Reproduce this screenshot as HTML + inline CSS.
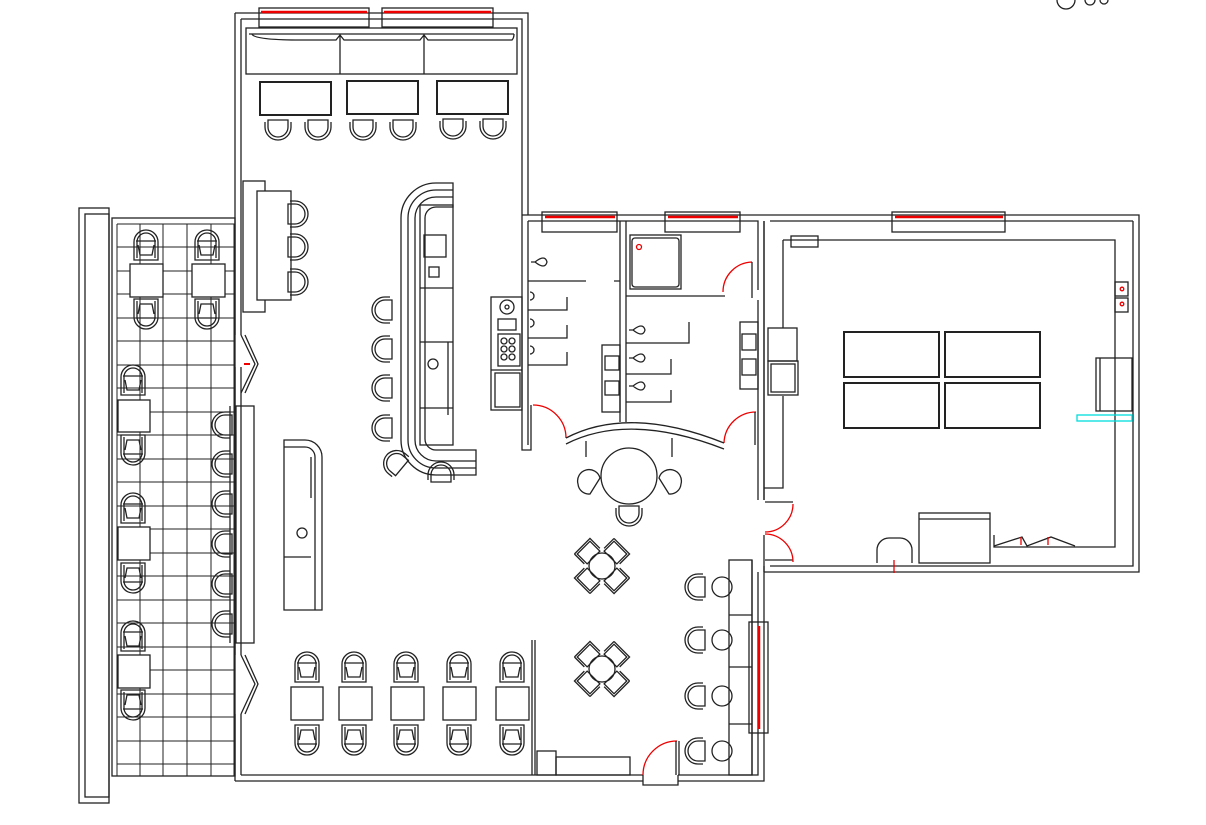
<!DOCTYPE html>
<html><head><meta charset="utf-8"><style>html,body{margin:0;padding:0;background:#fff;overflow:hidden;width:1206px;height:825px}svg{display:block}</style></head>
<body>
<svg width="1206" height="825" viewBox="0 0 1206 825" xmlns="http://www.w3.org/2000/svg" fill="none" stroke="#222" stroke-width="1.3">
<defs>
<g id="ch"><path d="M-12,15 V-3 A12,12 0 0 1 12,-3 V15 Z"/><path d="M-9,13 V-3 A9,9 0 0 1 9,-3 V13"/><path d="M-10,-4 H10 M-8,0 L-6,10 H6 L8,0"/></g>
<g id="st"><path d="M-10,0 H10 V7 A10,10 0 0 1 -10,7 Z"/><path d="M-13,2 V7 A13,13 0 0 0 13,7 V2"/></g>
<g id="ch4"><rect x="-9" y="-14" width="18" height="14"/><path d="M-11,-16 H11 V-2 M-11,-16 V-2"/></g>
</defs>

<circle cx="1066" cy="0" r="9"/><circle cx="1090" cy="0" r="5"/><circle cx="1104" cy="0" r="4"/>

<!-- terrace -->
<rect x="79" y="208" width="30" height="595"/><rect x="85" y="214" width="24" height="583"/>
<rect x="112" y="218" width="123" height="558"/>
<g stroke-width="1">
<path d="M117,224 H235 M117,224 V776 M140,224 V776 M163,224 V776 M187,224 V776 M211,224 V776 M234,224 V776"/>
<path d="M117,247 H235 M117,271 H235 M117,294 H235 M117,318 H235 M117,341 H235 M117,365 H235 M117,388 H235 M117,412 H235 M117,435 H235 M117,459 H235 M117,482 H235 M117,506 H235 M117,529 H235 M117,553 H235 M117,576 H235 M117,600 H235 M117,623 H235 M117,647 H235 M117,670 H235 M117,694 H235 M117,717 H235 M117,741 H235 M117,764 H235"/>
</g>
<g fill="#fff">
<rect x="130" y="264" width="33" height="33"/><rect x="192" y="264" width="33" height="33"/>
<rect x="118" y="400" width="32" height="32"/><rect x="118" y="527" width="32" height="33"/><rect x="118" y="655" width="32" height="33"/>
</g>
<use href="#ch" x="146" y="245"/><use href="#ch" x="207" y="245"/>
<use href="#ch" x="146" y="314" transform="rotate(180 146 314)"/><use href="#ch" x="207" y="314" transform="rotate(180 207 314)"/>
<use href="#ch" x="133" y="380"/><use href="#ch" x="133" y="450" transform="rotate(180 133 450)"/>
<use href="#ch" x="133" y="508"/><use href="#ch" x="133" y="578" transform="rotate(180 133 578)"/>
<use href="#ch" x="133" y="636"/><use href="#ch" x="133" y="705" transform="rotate(180 133 705)"/>

<!-- main left building walls -->
<path d="M235,13 H528 V215 M241,19 H522 V215"/>
<path d="M235,13 V335 M241,19 V335 M235,367 V655 M241,367 V655 M235,714 V781 M241,714 V775"/>
<path d="M235,781 H643 M241,775 H643 M678,781 H764 V566 M678,775 H758 V572"/>
<path d="M643,775 V785 H678 V775"/>
<path d="M241,335 L255,364 L241,393 M245,335 L258,364 L245,393 M241,655 L255,684 L241,714 M245,655 L258,684 L245,714"/>
<path d="M244,364 H250" stroke="#e00" stroke-width="2"/>
<rect x="259" y="8" width="110" height="19"/><rect x="382" y="8" width="111" height="19"/>
<path d="M261,12 H367 M384,12 H491" stroke="#e00" stroke-width="2.5"/>
<rect x="246" y="28" width="271" height="46"/>
<path d="M249,34 H514 M340,34 V74 M424,34 V74 M252,34 Q254,40 300,40 L336,40 L340,35 L344,40 L420,40 L424,35 L428,40 L512,40 Q514,38 514,34"/>
<rect x="260" y="82" width="71" height="33" stroke-width="2"/><rect x="347" y="81" width="71" height="33" stroke-width="2"/><rect x="437" y="81" width="71" height="33" stroke-width="2"/>
<use href="#st" x="278" y="120"/><use href="#st" x="318" y="120"/><use href="#st" x="363" y="120"/><use href="#st" x="403" y="120"/><use href="#st" x="453" y="119"/><use href="#st" x="493" y="119"/>

<!-- left bar counter -->
<rect x="243" y="181" width="22" height="131"/><rect x="257" y="191" width="34" height="109" fill="#fff"/>
<use href="#st" x="288" y="214" transform="rotate(-90 288 214)"/><use href="#st" x="288" y="247" transform="rotate(-90 288 247)"/><use href="#st" x="288" y="282" transform="rotate(-90 288 282)"/>

<!-- central bar -->
<path d="M453,183 H436 A35,35 0 0 0 401,218 V440 A35,35 0 0 0 436,475 H476 V450 H436 A11,11 0 0 1 425,439 V218 A11,11 0 0 1 436,207 H453 Z"/>
<path d="M453,190 H436 A28,28 0 0 0 408,218 V440 A28,28 0 0 0 436,468 H476 M453,197 H436 A21,21 0 0 0 415,218 V440 A21,21 0 0 0 436,461 H476"/>
<rect x="420" y="205" width="33" height="240"/>
<rect x="424" y="235" width="22" height="22"/><rect x="429" y="267" width="10" height="10"/>
<path d="M420,288 H453 M420,342 H453 M420,408 H453 M448,342 V415"/>
<circle cx="433" cy="364" r="5"/>
<use href="#st" x="392" y="310" transform="rotate(90 392 310)"/><use href="#st" x="392" y="349" transform="rotate(90 392 349)"/><use href="#st" x="392" y="388" transform="rotate(90 392 388)"/><use href="#st" x="392" y="428" transform="rotate(90 392 428)"/>
<use href="#st" x="402" y="468" transform="rotate(130 402 468)"/><use href="#st" x="441" y="482" transform="rotate(180 441 482)"/>

<!-- banquette left wall -->
<rect x="236" y="406" width="18" height="237"/><path d="M230,406 V643"/>
<use href="#st" x="232" y="425" transform="rotate(90 232 425)"/><use href="#st" x="232" y="464" transform="rotate(90 232 464)"/><use href="#st" x="232" y="504" transform="rotate(90 232 504)"/><use href="#st" x="232" y="544" transform="rotate(90 232 544)"/><use href="#st" x="232" y="584" transform="rotate(90 232 584)"/><use href="#st" x="232" y="624" transform="rotate(90 232 624)"/>

<!-- island -->
<path d="M284,610 V440 H305 A17,17 0 0 1 322,457 V610 Z"/><path d="M284,447 H305 A10,10 0 0 1 315,457 V610 M311,457 V498 M284,557 H311"/>
<circle cx="302" cy="533" r="5"/>

<!-- bottom tables -->
<rect x="291" y="687" width="32" height="33"/><rect x="339" y="687" width="33" height="33"/><rect x="391" y="687" width="33" height="33"/><rect x="443" y="687" width="33" height="33"/><rect x="496" y="687" width="33" height="33"/>
<use href="#ch" x="307" y="667"/><use href="#ch" x="354" y="667"/><use href="#ch" x="406" y="667"/><use href="#ch" x="459" y="667"/><use href="#ch" x="512" y="667"/>
<use href="#ch" x="307" y="740" transform="rotate(180 307 740)"/><use href="#ch" x="354" y="740" transform="rotate(180 354 740)"/><use href="#ch" x="406" y="740" transform="rotate(180 406 740)"/><use href="#ch" x="459" y="740" transform="rotate(180 459 740)"/><use href="#ch" x="512" y="740" transform="rotate(180 512 740)"/>
<path d="M532,640 V775 M535,640 V775"/>
<rect x="537" y="751" width="19" height="24"/><rect x="556" y="757" width="74" height="18"/>
<path d="M643,775 A34,34 0 0 1 677,741" stroke="#e00"/><path d="M676,741 V775 M679,741 V775"/>

<!-- restroom block walls -->
<path d="M522,215 H1139 V572 H764 M528,221 H758 V290 M758,300 V500 M764,221 V500"/>
<path d="M522,215 V450 H531 V405 M528,221 V445"/>
<rect x="542" y="212" width="75" height="20"/><rect x="665" y="212" width="75" height="20"/><rect x="892" y="212" width="113" height="20"/>
<path d="M545,217 H615 M668,217 H738 M895,217 H1003" stroke="#e00" stroke-width="2.5"/>
<path d="M620,221 V422 M626,221 V422 M528,281 H586 M614,281 H620 M626,296 H725"/>
<rect x="630" y="235" width="51" height="54"/><rect x="632" y="238" width="47" height="49" rx="3"/>
<circle cx="639" cy="247" r="2.5" stroke="#e00"/>
<path d="M528,310 H567 V297 M528,338 H567 V325 M528,365 H567 V352 M626,343 H689 V322 M626,374 H671 V359 M626,402 H671 V390"/>
<path d="M531,262 h4 q10,-8 12,0 q-2,8 -12,0 z M629,330 h4 q10,-8 12,0 q-2,8 -12,0 z M629,358 h4 q10,-8 12,0 q-2,8 -12,0 z M629,386 h4 q10,-8 12,0 q-2,8 -12,0 z"/>
<path d="M530,292 a4,4 0 0 1 0,8 M530,319 a4,4 0 0 1 0,8 M530,346 a4,4 0 0 1 0,8"/>
<rect x="602" y="345" width="18" height="67"/><rect x="605" y="356" width="14" height="14"/><rect x="605" y="381" width="14" height="14"/>
<rect x="740" y="322" width="18" height="67"/><rect x="742" y="334" width="14" height="16"/><rect x="742" y="359" width="14" height="16"/>
<rect x="491" y="297" width="31" height="113"/><circle cx="507" cy="307" r="7"/><circle cx="507" cy="307" r="2"/>
<rect x="498" y="319" width="18" height="11"/><rect x="498" y="334" width="22" height="32"/>
<circle cx="504" cy="341" r="3"/><circle cx="512" cy="341" r="3"/><circle cx="504" cy="349" r="3"/><circle cx="512" cy="349" r="3"/><circle cx="504" cy="357" r="3"/><circle cx="512" cy="357" r="3"/>
<rect x="495" y="373" width="25" height="34"/><path d="M491,370 H522"/>
<path d="M533,405 A33,33 0 0 1 566,438" stroke="#e00"/><path d="M723,292 A30,30 0 0 1 752,262" stroke="#e00"/><path d="M724,443 A32,32 0 0 1 756,412" stroke="#e00"/>
<path d="M752,262 V298 M755,412 V445"/>
<path d="M566,438 Q629,405 724,443 M566,444 Q629,412 724,449 M586,441 V457 M672,438 V457"/>
<circle cx="629" cy="476" r="28"/>
<path d="M578,484 A11,11 0 0 1 600,478 L590,494 A11,11 0 0 1 578,484 Z M681,484 A11,11 0 0 0 659,478 L669,494 A11,11 0 0 0 681,484 Z"/>
<use href="#st" x="629" y="506"/>

<g transform="translate(602,566)"><circle r="13"/><use href="#ch4" transform="rotate(-45) translate(0,-12)"/><use href="#ch4" transform="rotate(45) translate(0,-12)"/><use href="#ch4" transform="rotate(135) translate(0,-12)"/><use href="#ch4" transform="rotate(-135) translate(0,-12)"/></g>
<g transform="translate(602,669)"><circle r="13"/><use href="#ch4" transform="rotate(-45) translate(0,-12)"/><use href="#ch4" transform="rotate(45) translate(0,-12)"/><use href="#ch4" transform="rotate(135) translate(0,-12)"/><use href="#ch4" transform="rotate(-135) translate(0,-12)"/></g>

<rect x="729" y="560" width="23" height="215"/><path d="M729,615 H752 M729,667 H752 M729,724 H752 M752,560 V775"/>
<rect x="749" y="622" width="19" height="111"/><path d="M759,626 V729" stroke="#e00" stroke-width="2.5"/>
<circle cx="722" cy="587" r="10"/><circle cx="722" cy="640" r="10"/><circle cx="722" cy="696" r="10"/><circle cx="722" cy="751" r="10"/>
<use href="#st" x="705" y="587" transform="rotate(90 705 587)"/><use href="#st" x="705" y="640" transform="rotate(90 705 640)"/><use href="#st" x="705" y="696" transform="rotate(90 705 696)"/><use href="#st" x="705" y="751" transform="rotate(90 705 751)"/>

<!-- right room -->
<path d="M1133,221 V566 H770 M770,221 H1133 M764,221 V500 M764,535 V572"/>
<path d="M783,240 H1115 V547 H994 V535 M783,240 V328 M783,396 V488 H764"/>
<rect x="791" y="236" width="27" height="11"/>
<rect x="768" y="328" width="29" height="33"/><rect x="768" y="361" width="30" height="34"/><rect x="771" y="364" width="24" height="28"/>
<path d="M765,502 H793 M765,560 H793"/>
<path d="M765,532 A28,28 0 0 0 793,504 M765,534 A28,28 0 0 1 793,562" stroke="#e00"/>
<rect x="844" y="332" width="95" height="45" stroke-width="2"/><rect x="945" y="332" width="95" height="45" stroke-width="2"/>
<rect x="844" y="383" width="95" height="45" stroke-width="2"/><rect x="945" y="383" width="95" height="45" stroke-width="2"/>
<rect x="1115" y="282" width="13" height="14"/><rect x="1115" y="298" width="13" height="14"/>
<circle cx="1122" cy="289" r="1.8" stroke="#e00"/><circle cx="1122" cy="304" r="1.8" stroke="#e00"/>
<rect x="1096" y="358" width="36" height="53"/><path d="M1100,358 V411"/>
<rect x="1077" y="415" width="55" height="6" stroke="#0dd"/>
<rect x="919" y="513" width="71" height="50"/><path d="M919,519 H990"/>
<path d="M877,563 V550 A12,12 0 0 1 889,538 H900 A12,12 0 0 1 912,550 V563"/><path d="M894,560 V573" stroke="#e00"/>
<path d="M994,546 L1022,537 L1027,546 L1051,537 L1075,546"/><path d="M1021,537 v8 M1048,537 v8" stroke="#e00"/>
</svg>
</body></html>
